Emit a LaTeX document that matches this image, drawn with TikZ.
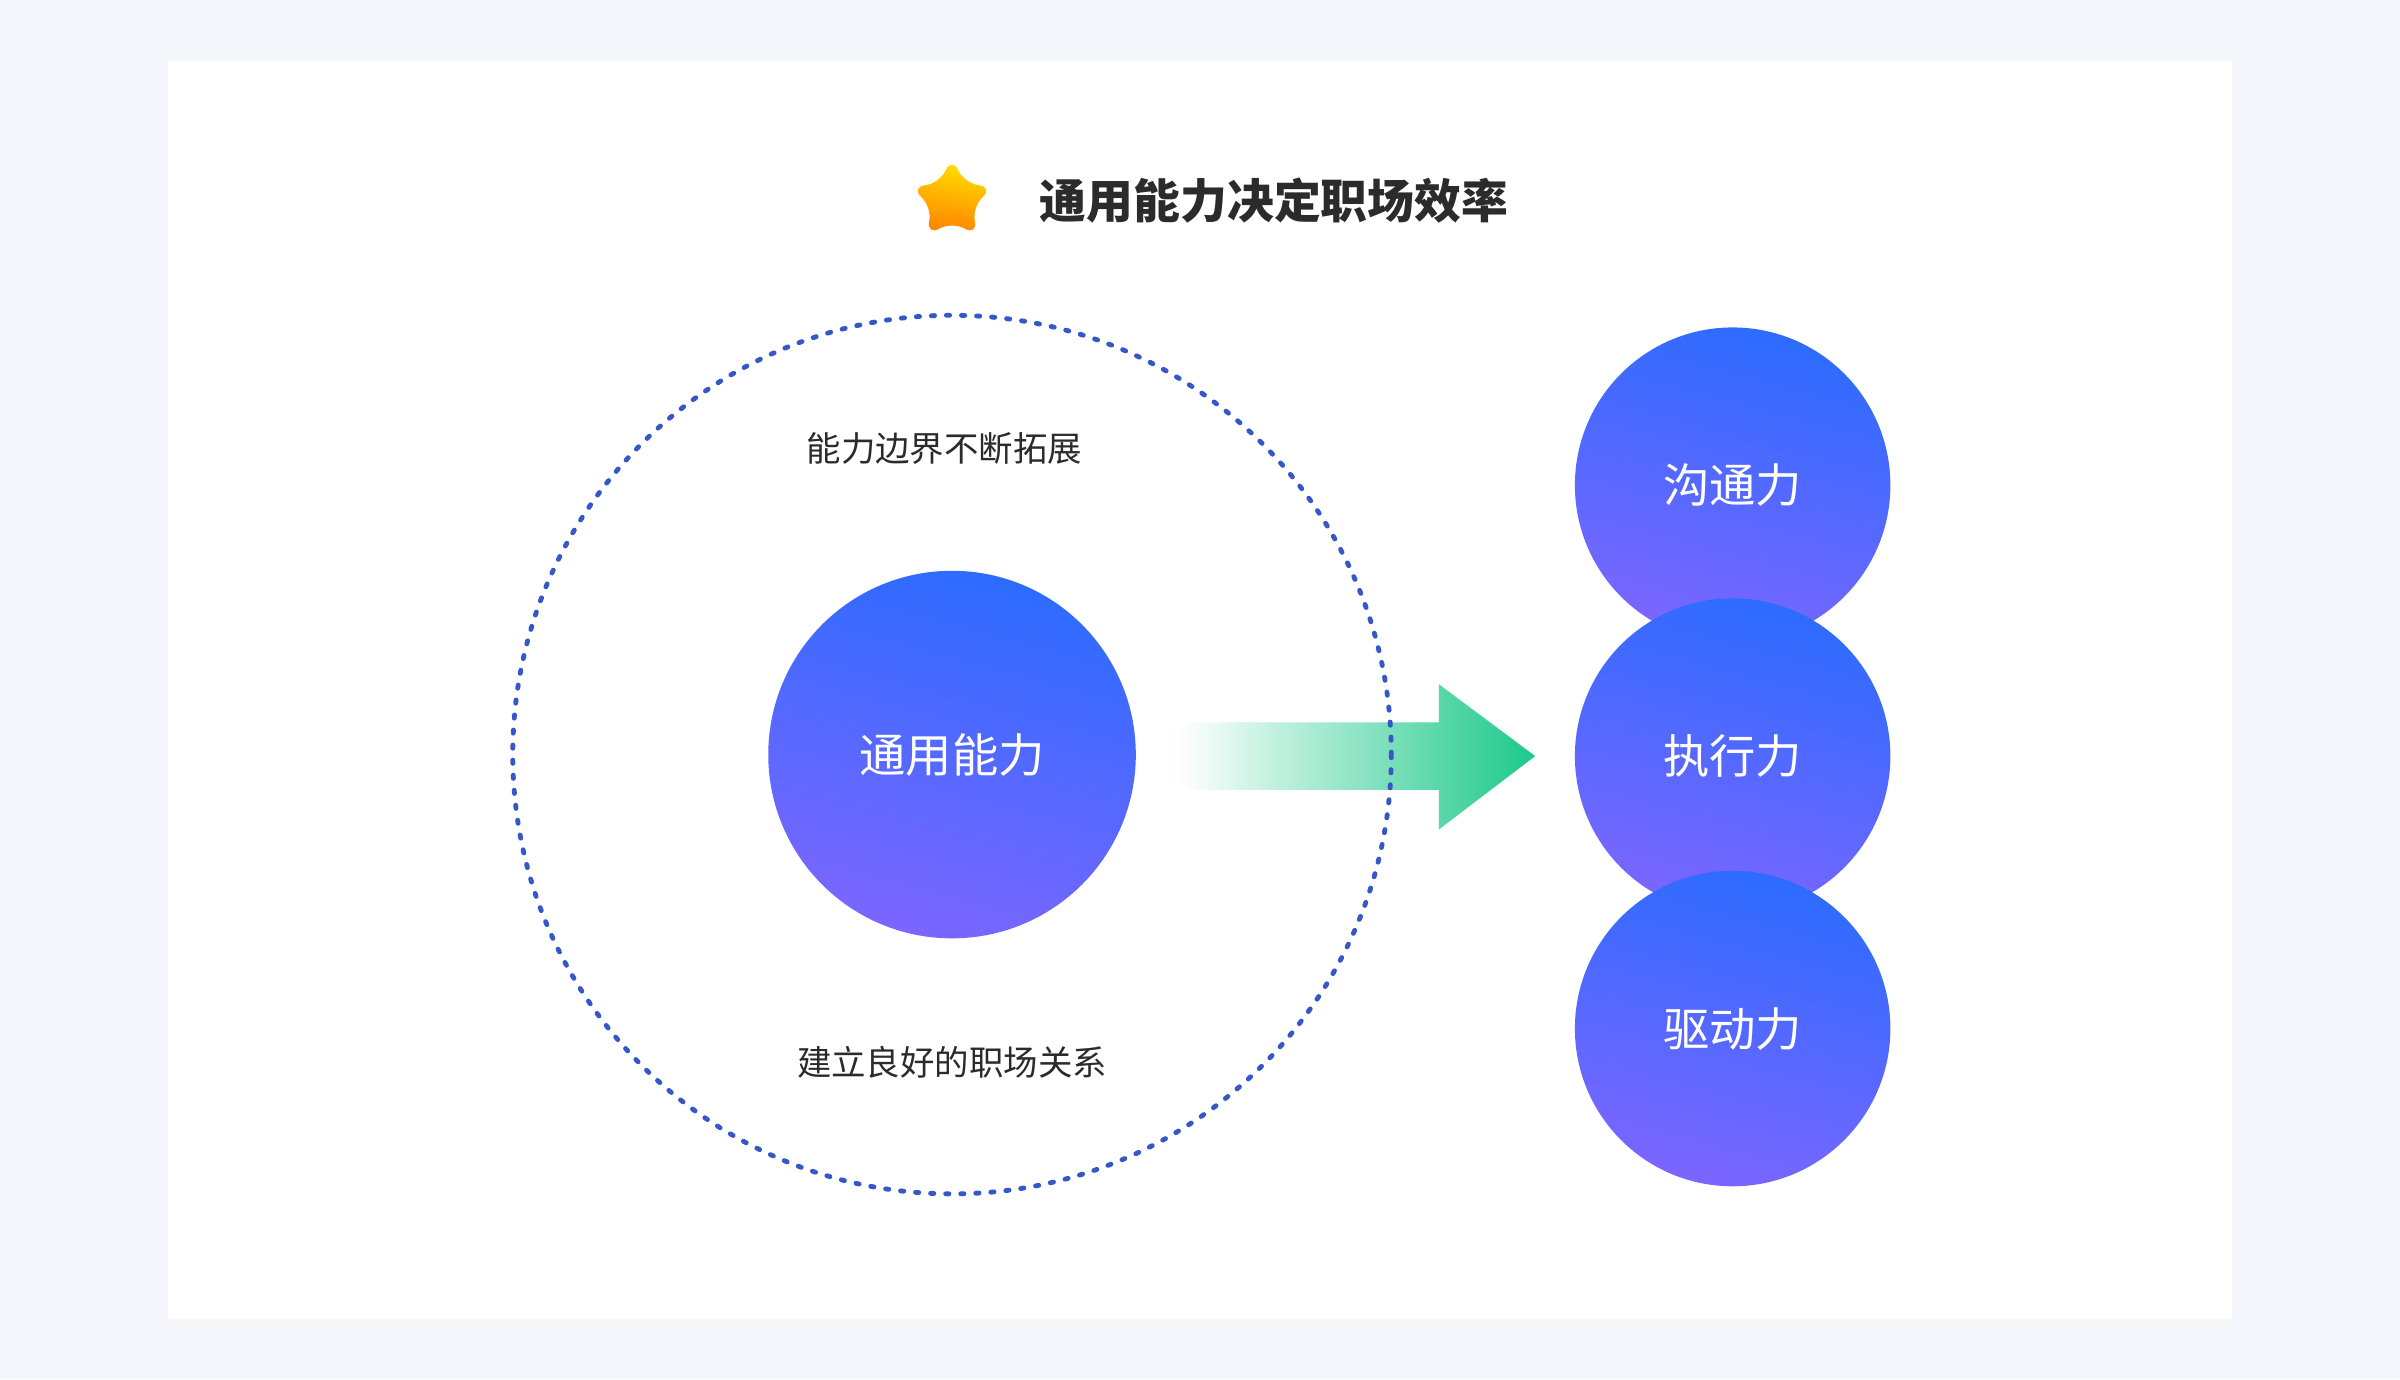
\documentclass[tikz,border=0pt]{standalone}
\usepackage{fontspec}
\setmainfont{Noto Sans CJK SC}
\usetikzlibrary{shapes.geometric}
\definecolor{pageBg}{HTML}{F3F7FC}
\definecolor{ringBlue}{HTML}{3557C8}
\definecolor{ballTop}{HTML}{2D6BFF}
\definecolor{ballBot}{HTML}{7B66FF}
\definecolor{arrowGreen}{HTML}{1DC98A}
\definecolor{titleInk}{HTML}{2B2B2B}
\tikzset{
  ball/.style={circle, minimum size=#1, inner sep=0pt, top color=ballTop, bottom color=ballBot,
    shading angle=-15, text=white, font=\fontsize{8.6pt}{10pt}\selectfont},
  note/.style={font=\fontsize{6.4pt}{8pt}\selectfont, text=titleInk}
}
\begin{document}
\begin{tikzpicture}[x=0.01cm,y=-0.01cm]
\useasboundingbox (0,0) rectangle (1568,901);
\fill[pageBg] (0,0) rectangle (1568,901);

% card
\fill[black!4] (108,42) rectangle (1460,866);
\fill[white] (110,40) rectangle (1458,862);

% title
\node[star, star points=5, star point ratio=2.0, minimum size=0.56cm, inner sep=0pt,
  rounded corners=2.5pt, top color=yellow!80!orange, bottom color=orange, shading angle=-10] (star) at (622,131) {};
\node[anchor=west, text=titleInk, font=\fontsize{8.7pt}{10pt}\selectfont\bfseries] (title) at (667,131) {通用能力决定职场效率};

% arrow
\shade[left color=white, right color=arrowGreen, shading angle=90]
  (770,472) -- (940,472) -- (940,447) -- (1003,494) -- (940,542) -- (940,516) -- (770,516) -- cycle;

% left group
\coordinate (o) at (622,493);
\draw[ringBlue, line width=0.9pt, dash pattern=on 0.6pt off 2.2pt, line cap=round] (o) circle (287);
\node[ball=2.4cm] (core) at (o) {通用能力};
\node[note] (upper) at (617,293) {能力边界不断拓展};
\node[note] (lower) at (622,694) {建立良好的职场关系};

% right group
\node[ball=2.06cm] (talk) at (1132,317) {沟通力};
\node[ball=2.06cm] (exec) at (1132,494) {执行力};
\node[ball=2.06cm] (drive) at (1132,672) {驱动力};
\end{tikzpicture}
\end{document}
